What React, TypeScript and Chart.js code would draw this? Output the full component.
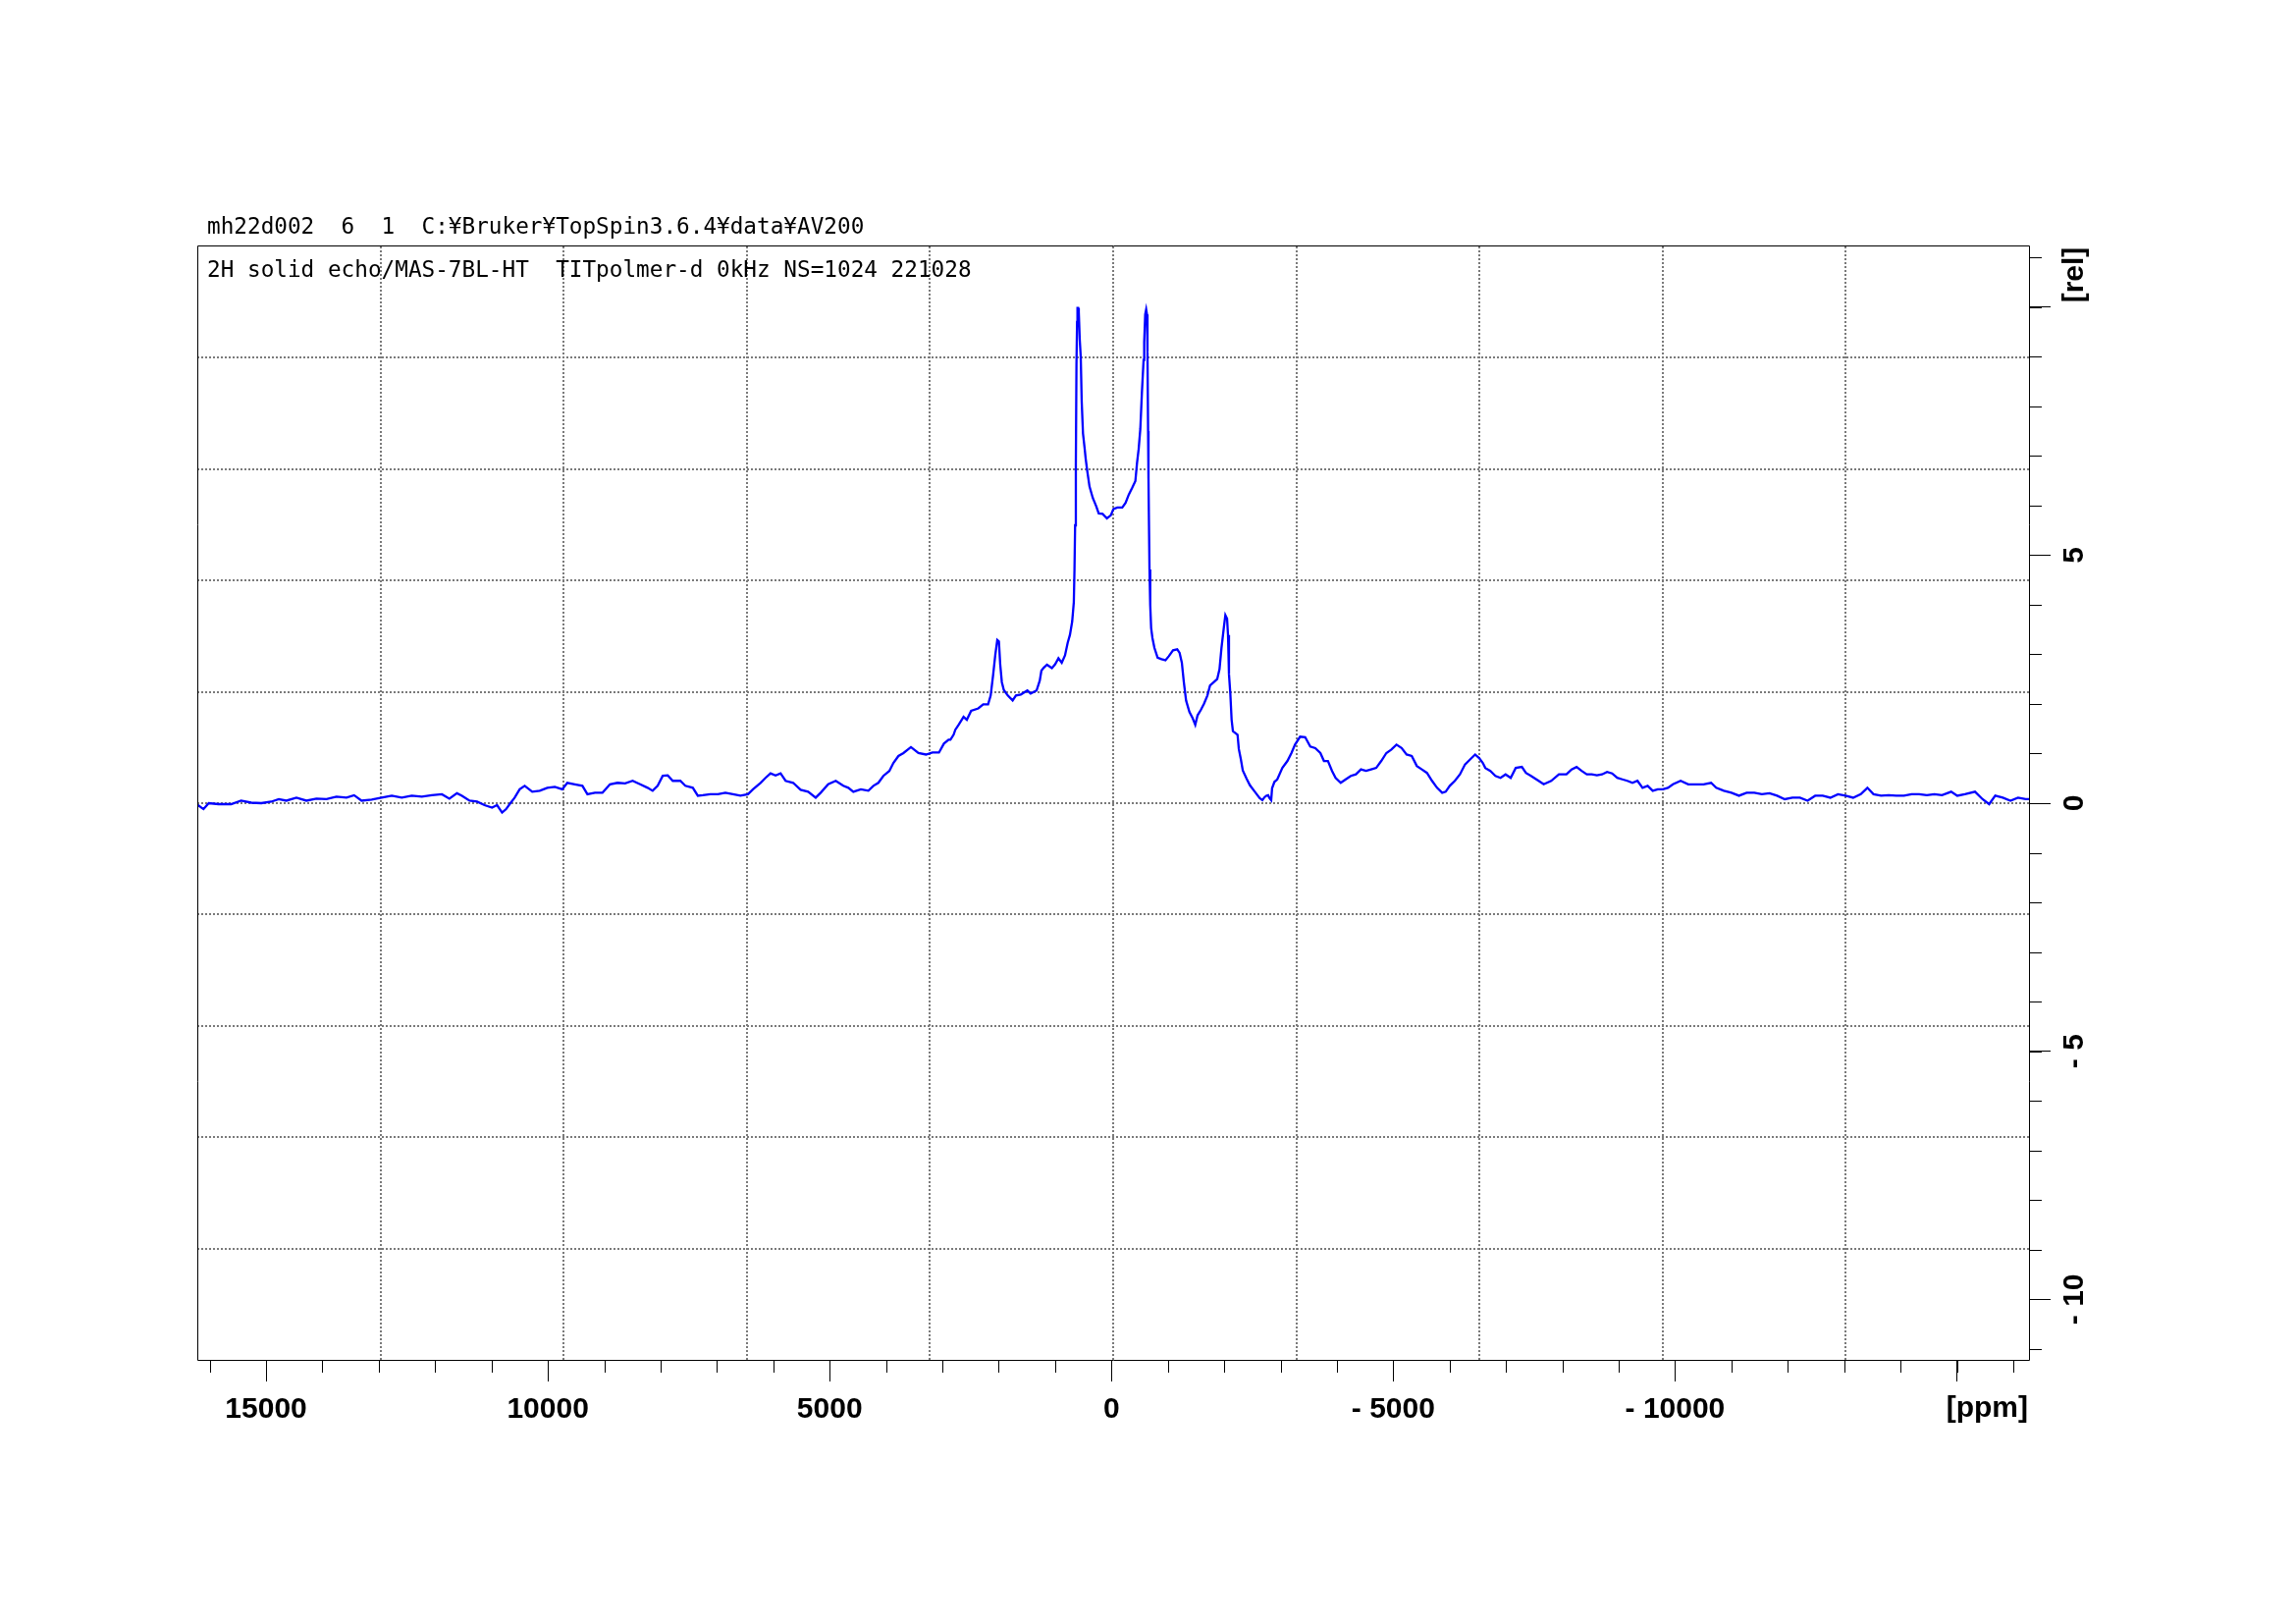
import React, { useEffect, useRef } from 'react';
import { Chart, registerables } from 'chart.js';

Chart.register(...registerables);

// Chemical shift (ppm), descending (left to right on the reversed axis)
const ppm = [
  16220, 16110, 16017, 15843, 15620, 15443, 15264, 15085, 14909, 14774,
  14640, 14461, 14284, 14106, 13928, 13751, 13572, 13438, 13305, 13126,
  12950, 12770, 12592, 12415, 12236, 12058, 11880, 11747, 11613, 11524,
  11390, 11256, 11123, 10990, 10901, 10812, 10741, 10678, 10589, 10500,
  10411, 10277, 10144, 10010, 9877, 9744, 9655, 9521, 9387, 9298,
  9165, 9031, 8897, 8763, 8630, 8496, 8363, 8230, 8141, 8052,
  7962, 7873, 7784, 7650, 7561, 7428, 7339, 7250, 7117, 6983,
  6850, 6716, 6583, 6449, 6360, 6226, 6138, 6049, 5960, 5871,
  5782, 5648, 5515, 5382, 5248, 5159, 5026, 4892, 4758, 4669,
  4580, 4447, 4313, 4224, 4136, 4047, 3941, 3869, 3780, 3691,
  3558, 3425, 3291, 3176, 3060, 2973, 2890, 2857, 2801, 2770,
  2711, 2624, 2566, 2490, 2363, 2276, 2189, 2143, 2101, 2061,
  2026, 1997, 1974, 1945, 1910, 1840, 1753, 1695, 1608, 1492,
  1434, 1329, 1272, 1243, 1202, 1144, 1057, 999, 941, 882,
  824, 777, 737, 697, 668, 656, 645, 632, 621, 610,
  603, 590, 580, 563, 545, 528, 505, 476, 458, 429,
  389, 331, 272, 226, 157, 81, 12, -35, -105, -192,
  -250, -308, -366, -424, -453, -483, -512, -540, -570, -581,
  -599, -616, -630, -639, -650, -657, -665, -675, -688, -704,
  -727, -762, -819, -889, -958, -1017, -1092, -1167, -1209, -1249,
  -1284, -1324, -1383, -1441, -1487, -1528, -1586, -1644, -1702, -1749,
  -1818, -1876, -1917, -1952, -1993, -2021, -2051, -2068, -2085, -2109,
  -2132, -2155, -2237, -2260, -2295, -2330, -2399, -2457, -2544, -2631,
  -2678, -2716, -2747, -2780, -2805, -2834, -2850, -2892, -2942, -3032,
  -3122, -3193, -3257, -3347, -3437, -3527, -3617, -3707, -3770, -3841,
  -3914, -3977, -4068, -4157, -4247, -4337, -4427, -4517, -4607, -4697,
  -4787, -4877, -4967, -5057, -5148, -5237, -5328, -5418, -5507, -5598,
  -5688, -5777, -5868, -5930, -6003, -6093, -6183, -6273, -6363, -6453,
  -6524, -6589, -6633, -6723, -6813, -6903, -6993, -7084, -7173, -7282,
  -7354, -7444, -7579, -7669, -7803, -7939, -8073, -8164, -8253, -8343,
  -8434, -8523, -8613, -8704, -8793, -8883, -8974, -9064, -9153, -9244,
  -9333, -9423, -9514, -9604, -9693, -9784, -9873, -9963, -10099, -10234,
  -10369, -10505, -10639, -10730, -10866, -11000, -11134, -11270, -11406, -11540,
  -11676, -11810, -11946, -12082, -12216, -12352, -12486, -12620, -12756, -12890,
  -13026, -13160, -13296, -13413, -13521, -13655, -13791, -13925, -14061, -14197,
  -14331, -14467, -14601, -14737, -14899, -15007, -15142, -15322, -15457, -15573,
  -15681, -15815, -15951, -16085, -16221, -16280,
];

// Relative intensity at each ppm position
const intensity = [
  -0.03, -0.12, 0.0, -0.02, -0.02, 0.05, 0.01, 0.0, 0.03, 0.08,
  0.05, 0.11, 0.05, 0.09, 0.08, 0.13, 0.11, 0.16, 0.05, 0.07,
  0.11, 0.15, 0.11, 0.15, 0.13, 0.16, 0.18, 0.09, 0.2, 0.15,
  0.05, 0.03, -0.04, -0.09, -0.04, -0.19, -0.12, -0.02, 0.11, 0.28,
  0.35, 0.23, 0.25, 0.31, 0.33, 0.28, 0.41, 0.38, 0.35, 0.18,
  0.21, 0.21, 0.38, 0.41, 0.4, 0.45, 0.38, 0.31, 0.25, 0.35,
  0.55, 0.56, 0.45, 0.45, 0.35, 0.31, 0.15, 0.16, 0.18, 0.18,
  0.21, 0.18, 0.15, 0.18, 0.28, 0.41, 0.51, 0.6, 0.56, 0.6,
  0.45, 0.41, 0.27, 0.23, 0.11, 0.21, 0.38, 0.45, 0.35, 0.31,
  0.23, 0.28, 0.25, 0.35, 0.41, 0.55, 0.65, 0.81, 0.95, 1.01,
  1.13, 1.01, 0.98, 1.02, 1.02, 1.2, 1.28, 1.28, 1.38, 1.48,
  1.58, 1.74, 1.68, 1.86, 1.91, 1.99, 1.99, 2.17, 2.57, 2.99,
  3.29, 3.26, 2.8, 2.44, 2.28, 2.17, 2.07, 2.17, 2.19, 2.27,
  2.21, 2.27, 2.47, 2.67, 2.73, 2.79, 2.72, 2.8, 2.92, 2.83,
  2.98, 3.23, 3.39, 3.66, 4.05, 4.71, 5.6, 6.8, 8.83, 9.7,
  9.98, 9.98, 9.9, 9.35, 9.0, 8.1, 7.45, 7.15, 6.95, 6.69,
  6.38, 6.15, 5.99, 5.84, 5.83, 5.74, 5.8, 5.93, 5.96, 5.96,
  6.05, 6.22, 6.35, 6.49, 6.85, 7.14, 7.54, 8.27, 8.93, 9.29,
  9.85, 9.95, 9.85, 9.1, 7.5, 6.55, 5.7, 4.71, 3.99, 3.53,
  3.33, 3.13, 2.93, 2.9, 2.88, 2.96, 3.08, 3.1, 3.03, 2.83,
  2.44, 2.07, 1.84, 1.71, 1.58, 1.77, 1.88, 2.01, 2.17, 2.37,
  2.44, 2.5, 2.7, 3.13, 3.53, 3.79, 3.72, 3.39, 2.6, 2.21,
  1.68, 1.45, 1.38, 1.09, 0.89, 0.66, 0.49, 0.36, 0.23, 0.1,
  0.06, 0.12, 0.15, 0.16, 0.1, 0.06, 0.3, 0.43, 0.48, 0.71,
  0.85, 1.01, 1.18, 1.34, 1.33, 1.14, 1.11, 1.01, 0.85, 0.85,
  0.65, 0.51, 0.41, 0.48, 0.55, 0.58, 0.68, 0.65, 0.68, 0.71,
  0.85, 1.01, 1.08, 1.18, 1.11, 0.98, 0.95, 0.75, 0.68, 0.61,
  0.45, 0.31, 0.21, 0.23, 0.35, 0.45, 0.58, 0.78, 0.88, 0.98,
  0.91, 0.81, 0.71, 0.65, 0.55, 0.51, 0.58, 0.51, 0.71, 0.73,
  0.61, 0.55, 0.45, 0.38, 0.45, 0.58, 0.58, 0.68, 0.73, 0.65,
  0.58, 0.58, 0.56, 0.58, 0.63, 0.6, 0.51, 0.48, 0.45, 0.41,
  0.45, 0.31, 0.35, 0.25, 0.28, 0.28, 0.31, 0.38, 0.45, 0.38,
  0.38, 0.38, 0.41, 0.31, 0.25, 0.21, 0.15, 0.21, 0.21, 0.18,
  0.2, 0.15, 0.08, 0.11, 0.11, 0.05, 0.15, 0.15, 0.11, 0.18,
  0.15, 0.11, 0.18, 0.31, 0.18, 0.15, 0.16, 0.15, 0.15, 0.18,
  0.18, 0.16, 0.18, 0.16, 0.23, 0.15, 0.18, 0.23, 0.08, -0.02,
  0.15, 0.11, 0.05, 0.11, 0.08, 0.08,
];

const xMajorTicks = [15000, 10000, 5000, 0, -5000, -10000, -15000];
const xTickLabels = ['15000', '10000', '5000', '0', '- 5000', '- 10000', ''];
const yMajorTicks = [-10, -5, 0, 5, 10];
const yTickLabels = ['- 10', '- 5', '0', '5', ''];
const xMinorTicks: number[] = [];
for (let v = -16000; v <= 16000; v += 1000) xMinorTicks.push(v);
const yMinorTicks: number[] = [];
for (let v = -11; v <= 11; v += 1) yMinorTicks.push(v);

const xUnit = '[ppm]';
const yUnit = '[rel]';
const headerLine1 = 'mh22d002  6  1  C:\u00a5Bruker\u00a5TopSpin3.6.4\u00a5data\u00a5AV200';
const headerLine2 = '2H solid echo/MAS-7BL-HT  TITpolmer-d 0kHz NS=1024 221028';

const X_MAX = 16220;
const X_MIN = -16280;
const Y_MAX = 11.22;
const Y_MIN = -11.22;
const GRID_DIVISIONS = 10;

const LABEL_FONT = { family: '"Liberation Sans", Arial, sans-serif', size: 30, weight: 'bold' as const };

const decorPlugin = {
  id: 'nmrDecor',
  afterDraw(chart: any) {
    const { ctx, chartArea: a } = chart;
    const xs = chart.scales.x;
    const ys = chart.scales.y;
    ctx.save();
    ctx.strokeStyle = '#000';
    ctx.lineWidth = 1;
    ctx.setLineDash([]);
    const L = Math.round(a.left) + 0.5;
    const R = Math.round(a.right) + 0.5;
    const T = Math.round(a.top) - 0.5;
    const B = Math.round(a.bottom) + 0.5;
    ctx.beginPath();
    ctx.rect(L, T, R - L, B - T);
    for (const v of xMinorTicks) {
      const px = Math.round(xs.getPixelForValue(v)) + 0.5;
      ctx.moveTo(px, B);
      ctx.lineTo(px, B + 12.5);
    }
    for (const v of yMinorTicks) {
      const py = Math.round(ys.getPixelForValue(v)) + 0.5;
      ctx.moveTo(R, py);
      ctx.lineTo(R + 12.5, py);
    }
    ctx.stroke();

    ctx.fillStyle = '#000';
    ctx.font = `bold 30px ${LABEL_FONT.family}`;
    ctx.textAlign = 'center';
    ctx.textBaseline = 'middle';
    const lx = a.right + 47;
    yMajorTicks.forEach((v, i) => {
      const t = yTickLabels[i];
      if (!t) return;
      const py = ys.getPixelForValue(v);
      ctx.save();
      ctx.translate(lx, py);
      ctx.rotate(-Math.PI / 2);
      ctx.fillText(t, 0, 0);
      ctx.restore();
    });
    ctx.save();
    ctx.translate(lx, a.top + 29);
    ctx.rotate(-Math.PI / 2);
    ctx.fillText(yUnit, 0, 0);
    ctx.restore();

    ctx.textAlign = 'right';
    ctx.fillText(xUnit, a.right - 1, a.bottom + 50);

    ctx.font = '22.7px "DejaVu Sans Mono", monospace';
    ctx.textAlign = 'left';
    ctx.textBaseline = 'alphabetic';
    ctx.fillText(headerLine1, a.left + 10, a.top - 13.5);
    ctx.fillText(headerLine2, a.left + 10, a.top + 30.5);
    ctx.restore();
  },
};

function gridTicks(scale: any) {
  const out: { value: number }[] = [];
  const step = (scale.max - scale.min) / GRID_DIVISIONS;
  for (let k = 1; k < GRID_DIVISIONS; k++) out.push({ value: scale.min + k * step });
  scale.ticks = out;
}

export default function App() {
  const canvasRef = useRef<HTMLCanvasElement | null>(null);

  useEffect(() => {
    const canvas = canvasRef.current;
    if (!canvas) return;
    const points = ppm.map((x, i) => ({ x, y: intensity[i] }));
    const gridStyle = { color: '#7a7a7a', lineWidth: 2, drawTicks: false, drawOnChartArea: true };
    const chart = new Chart(canvas, {
      type: 'line',
      data: {
        datasets: [
          {
            data: points,
            xAxisID: 'x',
            yAxisID: 'y',
            borderColor: '#0000ff',
            borderWidth: 2.3,
            pointRadius: 0,
            tension: 0,
            fill: false,
          },
        ],
      },
      options: {
        animation: false,
        responsive: false,
        events: [],
        layout: { padding: { left: 201, top: 251, right: 0, bottom: 0 } },
        plugins: {
          legend: { display: false },
          tooltip: { enabled: false },
          title: { display: false },
        },
        scales: {
          x: {
            type: 'linear',
            position: 'bottom',
            reverse: true,
            min: X_MIN,
            max: X_MAX,
            afterBuildTicks: (s: any) => {
              s.ticks = xMajorTicks.map((v) => ({ value: v }));
            },
            afterFit: (s: any) => {
              s.height = 269;
            },
            grid: {
              display: true,
              drawOnChartArea: false,
              drawTicks: true,
              tickLength: 22,
              tickColor: '#000',
              tickWidth: 1,
            },
            border: { display: false },
            ticks: {
              autoSkip: false,
              maxRotation: 0,
              minRotation: 0,
              padding: 11,
              color: '#000',
              font: LABEL_FONT,
              callback: (v: any) => {
                const i = xMajorTicks.indexOf(Number(v));
                return i >= 0 ? xTickLabels[i] : '';
              },
            },
          },
          xg: {
            type: 'linear',
            position: 'bottom',
            reverse: true,
            min: X_MIN,
            max: X_MAX,
            afterBuildTicks: gridTicks,
            afterFit: (s: any) => {
              s.height = 0;
            },
            ticks: { display: false },
            grid: gridStyle,
            border: { display: false, dash: [2, 2] },
          },
          y: {
            type: 'linear',
            position: 'right',
            min: Y_MIN,
            max: Y_MAX,
            afterBuildTicks: (s: any) => {
              s.ticks = yMajorTicks.map((v) => ({ value: v }));
            },
            afterFit: (s: any) => {
              s.width = 272;
            },
            ticks: { display: false },
            grid: {
              display: true,
              drawOnChartArea: false,
              drawTicks: true,
              tickLength: 22,
              tickColor: '#000',
              tickWidth: 1,
            },
            border: { display: false },
          },
          yg: {
            type: 'linear',
            position: 'left',
            min: Y_MIN,
            max: Y_MAX,
            afterBuildTicks: gridTicks,
            afterFit: (s: any) => {
              s.width = 0;
            },
            ticks: { display: false },
            grid: gridStyle,
            border: { display: false, dash: [2, 2] },
          },
        },
      } as any,
      plugins: [decorPlugin],
    });
    return () => chart.destroy();
  }, []);

  return (
    <div
      style={{
        position: 'fixed',
        left: 0,
        top: 0,
        width: 2339,
        height: 1654,
        background: '#fff',
      }}
    >
      <canvas ref={canvasRef} width={2339} height={1654} style={{ display: 'block', width: 2339, height: 1654 }} />
    </div>
  );
}
